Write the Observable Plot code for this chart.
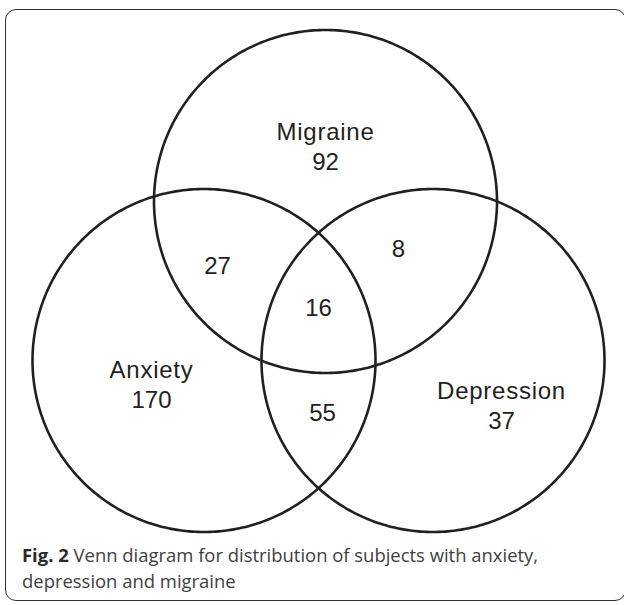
<!DOCTYPE html>
<html><head><meta charset="utf-8">
<script src="https://cdn.jsdelivr.net/npm/d3@7"></script>
<script src="https://cdn.jsdelivr.net/npm/@observablehq/plot@0.6"></script>
<style>
html,body{margin:0;padding:0;background:#fff;overflow:hidden;width:624px;height:605px}
#chart{position:absolute;left:0;top:0}
#frame{position:absolute;left:5px;top:9px;width:621px;height:592px;border:1.5px solid #333;border-radius:11px;box-sizing:border-box;pointer-events:none;z-index:2}
#caption{position:absolute;left:22px;top:542px;font-family:"Open Sans",sans-serif;font-size:18.3px;line-height:25.5px;color:#404040;white-space:pre}
#caption b{color:#2a2a2a;font-weight:700}
</style></head><body>
<div id="chart"></div>
<div id="frame"></div>
<div id="caption"><div><b id="fig">Fig. 2</b><span id="rest"> Venn diagram for distribution of subjects with anxiety,</span></div><div><span>depression and migraine</span></div></div>
<script>
// ---- data ----
const setNames = ["Migraine", "Anxiety", "Depression"];
const setOnlyCounts = [92, 170, 37];
const pairNames = ["Migraine ∩ Anxiety", "Migraine ∩ Depression", "Anxiety ∩ Depression"];
const pairCounts = [27, 8, 55];
const tripleCount = 16;

// ---- layout (chart units, y downward) ----
const circleCx = [325, 203.5, 432.5];
const circleCy = [201, 360, 360];
const circleR = 171.5;
const setLabelXY = [[325, 145], [151, 383], [501, 404]];
const pairLabelXY = [[217, 266], [398, 249], [322, 413]];
const tripleLabelXY = [318, 308];

const circlePts = [];
setNames.forEach((name, i) => {
  for (let a = 0; a < 360; a += 1) {
    const t = a * Math.PI / 180;
    circlePts.push({set: name, x: circleCx[i] + circleR * Math.cos(t), y: circleCy[i] + circleR * Math.sin(t)});
  }
});
const setLabels = setNames.map((n, i) => ({text: `${n}\n${setOnlyCounts[i]}`, x: setLabelXY[i][0], y: setLabelXY[i][1]}));
const regionLabels = pairNames.map((n, i) => ({text: String(pairCounts[i]), x: pairLabelXY[i][0], y: pairLabelXY[i][1]}))
  .concat([{text: String(tripleCount), x: tripleLabelXY[0], y: tripleLabelXY[1]}]);

const ink = "#231f20";
const chart = Plot.plot({
  width: 624, height: 545, margin: 0,
  style: {background: "none", overflow: "visible"},
  x: {domain: [0, 624], axis: null},
  y: {domain: [545, 0], axis: null},
  marks: [
    Plot.line(circlePts, {x: "x", y: "y", z: "set", curve: "linear-closed", stroke: ink, strokeWidth: 2.6}),
    Plot.text(setLabels, {x: "x", y: "y", text: "text", fontSize: 24, lineHeight: 1.25, fontFamily: "Liberation Sans, Arial, sans-serif", fill: ink}),
    Plot.text(regionLabels, {x: "x", y: "y", text: "text", fontSize: 24, fontFamily: "Liberation Sans, Arial, sans-serif", fill: ink})
  ]
});
document.getElementById("chart").appendChild(chart);
// wider tracking for the set names (Helvetica-like look)
chart.querySelectorAll("tspan").forEach(t => {
  if (setNames.includes(t.textContent)) t.setAttribute("letter-spacing", "0.75");
});
// fit caption first line to its width in the reference
const w = document.getElementById("fig").getBoundingClientRect().width + document.getElementById("rest").getBoundingClientRect().width;
document.getElementById("caption").style.fontSize = (18.3 * 516 / w) + "px";
</script>
</body></html>
